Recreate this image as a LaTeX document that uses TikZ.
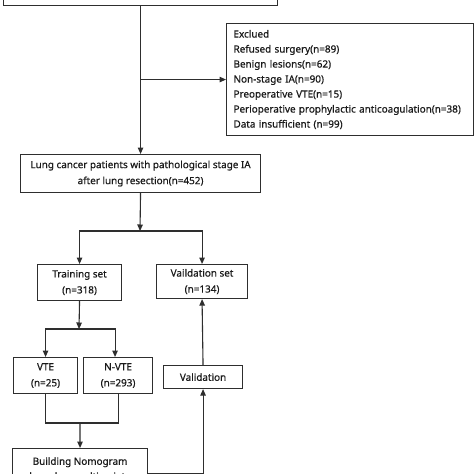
\documentclass[tikz,border=0pt]{standalone}
\usepackage{fontspec}
\setmainfont{Noto Sans}[FakeBold=0.6]
\usetikzlibrary{arrows.meta}
\definecolor{boxline}{HTML}{2E2E2E}
\definecolor{txt}{HTML}{1A1A1A}
\tikzset{
  stepbox/.style={draw=boxline, line width=1.1pt, fill=white, align=center, inner sep=0pt,
    font=\fontsize{9.9}{16}\selectfont, text=txt},
  arr/.style={color=boxline, line width=1.1pt, -{Triangle[length=6.5pt,width=5.5pt]}},
  ln/.style={color=boxline, line width=1.1pt}
}
\begin{document}
\begin{tikzpicture}[x=1pt,y=1pt]
\useasboundingbox (0,0) rectangle (474,-474);
\fill[white] (0,0) rectangle (474,-474);
\clip (0,0) rectangle (474,-474);
% top box (mostly out of view)
\node[stepbox, minimum width=274pt, minimum height=36pt, anchor=south west] (top) at (3,-6)
  {\\[-3pt]between January 2017 and January 2022(n=845)};
% excluded box
\node[stepbox, anchor=north west, align=left, text width=233pt, inner xsep=7pt, inner ysep=5pt,
  minimum height=112pt, font=\fontsize{9.9}{15}\selectfont] (excl) at (226,-23)
  {Exclued\\
   Refused surgery(n=89)\\
   Benign lesions(n=62)\\
   Non-stage IA(n=90)\\
   Preoperative VTE(n=15)\\
   Perioperative prophylactic anticoagulation(n=38)\\
   Data insufficient (n=99)};
% lung cancer box
\node[stepbox, minimum width=240pt, minimum height=38pt, anchor=north west] (lung) at (20,-154)
  {Lung cancer patients with pathological stage IA\\after lung resection(n=452)};
\coordinate (j1) at (140,-231);
% training and validation set
\node[stepbox, minimum width=84pt, minimum height=36pt, anchor=north west] (train) at (37,-264)
  {Training set\\(n=318)};
\node[stepbox, minimum width=91pt, minimum height=34pt, anchor=north west] (valset) at (156,-264)
  {Vaildation set\\(n=134)};
\coordinate (j2) at (79,-329);
% VTE boxes
\node[stepbox, minimum width=64pt, minimum height=36pt, anchor=north west] (vte) at (13,-357)
  {VTE\\(n=25)};
\node[stepbox, minimum width=69pt, minimum height=36pt, anchor=north west] (nvte) at (83,-357)
  {N-VTE\\(n=293)};
\node[stepbox, minimum width=79pt, minimum height=23pt, anchor=north west] (valid) at (163,-365)
  {Validation};
\coordinate (j3) at (80,-423);
\node[stepbox, minimum width=135pt, minimum height=40pt, anchor=north west,
  font=\fontsize{9.9}{15}\selectfont] (build) at (12,-448)
  {Building Nomogram\\based on multivariate};
% connectors
\draw[arr] (top.south -| lung.north) -- (lung.north);
\draw[arr] (excl.west -| lung.north) -- (excl.west);
\draw[arr] (lung.south) -- (j1);
\draw[arr] (j1) -| (train.north);
\draw[arr] (j1) -| (valset.north);
\draw[arr] (train.south) -- (j2);
\draw[arr] (j2) -| (vte.north);
\draw[arr] (j2) -| ([xshift=-3pt]nvte.north);
\draw[ln] (vte.south) |- (j3) -| (nvte.south);
\draw[arr] (j3) -- (build.north);
\draw[arr] ([yshift=-5pt]build.east) -| (valid.south);
\draw[arr] (valid.north) -- (valset.south);
\end{tikzpicture}
\end{document}
